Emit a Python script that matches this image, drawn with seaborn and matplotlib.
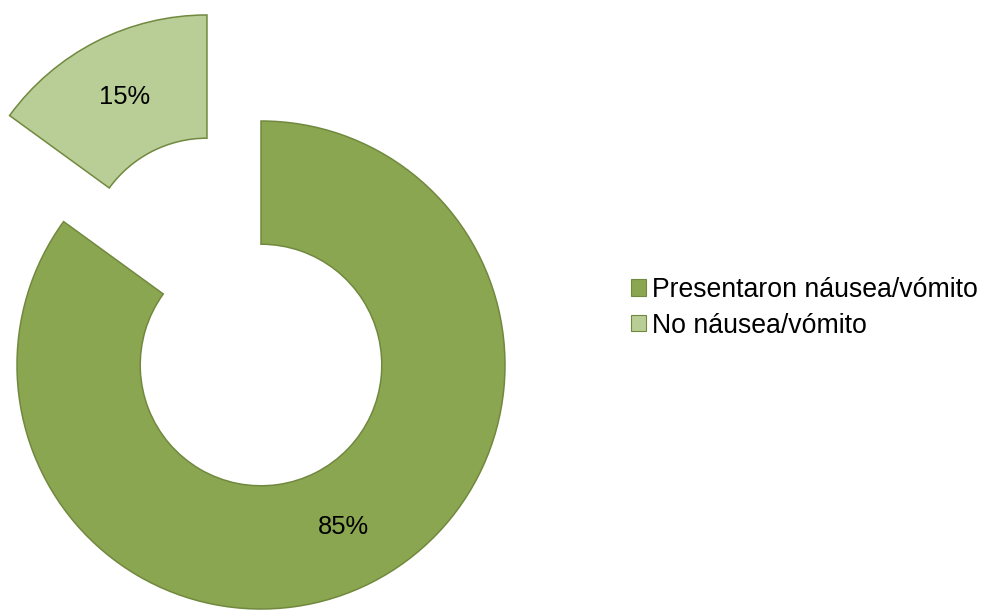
import matplotlib
matplotlib.use("Agg")
import matplotlib.pyplot as plt
from matplotlib.patches import Patch
import seaborn as sns

# Survey responses
categories = ["Presentaron náusea/vómito", "No náusea/vómito"]
percentages = [85, 15]

sns.set_theme(style="white")
plt.rcParams["font.family"] = ["Liberation Sans", "DejaVu Sans"]

colors = ["#8BA650", "#B8CE96"]
edge = "#71893F"

fig = plt.figure(figsize=(9.82, 6.10), dpi=100)
ax = fig.add_axes([0, 0, 1, 1])

radius = 244
wedges, texts, autotexts = ax.pie(
    percentages,
    colors=colors,
    startangle=90,
    counterclock=False,
    center=(261, 245),
    radius=radius,
    explode=[0, 119],  # offset in data units (pixels here)
    autopct=lambda p: f"{p:.0f}%",
    pctdistance=0.745,
    wedgeprops=dict(width=radius * 0.505, edgecolor=edge, linewidth=1.1),
    textprops=dict(fontsize=18.4, color="black"),
    frame=True,
)
ax.set_xlim(0, 982)
ax.set_ylim(0, 610)
ax.set_aspect("equal")
ax.axis("off")

handles = [Patch(facecolor=c, edgecolor=edge, linewidth=0.8) for c in colors]
ax.legend(
    handles, categories,
    loc="upper left",
    bbox_to_anchor=(631 / 982, 1 - 277 / 610),
    frameon=False,
    fontsize=19.2,
    labelcolor="black",
    handlelength=0.58,
    handleheight=0.58,
    handletextpad=0.22,
    labelspacing=0.36,
    borderpad=0,
    borderaxespad=0,
)

fig.savefig("out.png", dpi=100, facecolor="white")
